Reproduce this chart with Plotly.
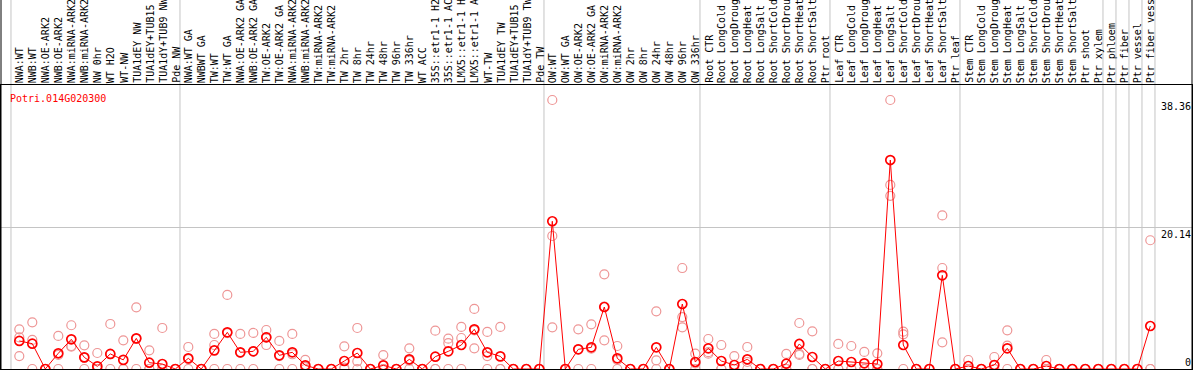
import plotly.graph_objects as go

gene = "Potri.014G020300"

categories = [
    "NWA:WT", "NWB:WT", "NWA:OE-ARK2", "NWB:OE-ARK2", "NWA:miRNA-ARK2", "NWB:miRNA-ARK2",
    "NW 0hr", "WT H2O", "WT-NW", "TUA1dEY NW", "TUA1dEY+TUB15 NW", "TUA1dY+TUB9 NW", "Pde NW",
    "NWA:WT GA", "NWBWT GA", "TW:WT", "TW:WT GA", "NWA:OE-ARK2 GA", "NWB:OE-ARK2 GA",
    "TW:OE-ARK2", "TW:OE-ARK2 GA", "NWA:miRNA-ARK2", "NWB:miRNA-ARK2", "TW:miRNA-ARK2",
    "TW:miRNA-ARK2", "TW 2hr", "TW 8hr", "TW 24hr", "TW 48hr", "TW 96hr", "TW 336hr",
    "WT ACC", "35S::etr1-1 H2O", "35S::etr1-1 ACC", "LMX5::etr1-1 H2O", "LMX5::etr1-1 ACC",
    "WT-TW", "TUA1dEY TW", "TUA1dEY+TUB15 TW", "TUA1dY+TUB9 TW", "Pde TW",
    "OW:WT", "OW:WT GA", "OW:OE-ARK2", "OW:OE-ARK2 GA", "OW:miRNA-ARK2", "OW:miRNA-ARK2",
    "OW 2hr", "OW 8hr", "OW 24hr", "OW 48hr", "OW 96hr", "OW 336hr",
    "Root CTR", "Root LongCold", "Root LongDrought", "Root LongHeat", "Root LongSalt",
    "Root ShortCold", "Root ShortDrought", "Root ShortHeat", "Root ShortSalt", "Ptr root",
    "Leaf CTR", "Leaf LongCold", "Leaf LongDrought", "Leaf LongHeat", "Leaf LongSalt",
    "Leaf ShortCold", "Leaf ShortDrought", "Leaf ShortHeat", "Leaf ShortSalt", "Ptr leaf",
    "Stem CTR", "Stem LongCold", "Stem LongDrought", "Stem LongHeat", "Stem LongSalt",
    "Stem ShortCold", "Stem ShortDrought", "Stem ShortHeat", "Stem ShortSalt", "Ptr shoot",
    "Ptr xylem", "Ptr phloem", "Ptr fiber", "Ptr vessel", "Ptr fiber vessel",
]

group_sizes = [13, 28, 12, 10, 10, 11, 1, 1, 1, 1]

mean_values = [
    4.0, 3.61, 0, 2.24, 4.23, 1.66, 0.38, 2.15, 1.3, 4.37, 0.9, 0.71, 0,
    1.52, 0, 2.66, 5.23, 2.38, 2.52, 4.52, 1.95, 2.38, 0.52, 0, 0, 1.14, 2.28, 0, 0.52, 0,
    1.38, 0, 1.76, 2.52, 3.42, 5.66, 2.38, 1.8, 0, 0, 0,
    21.07, 0, 2.81, 3.09, 8.84, 1.52, 0, 0, 3.09, 0, 9.27, 1.0,
    2.95, 1.14, 0.57, 1.38, 0, 0, 0.76, 3.57, 1.71, 0,
    1.14, 1.0, 0.81, 0.71, 29.8, 3.42, 0, 0, 13.36, 0,
    0.43, 0, 0.57, 2.95, 0, 0, 0.43, 0, 0, 0, 0,
    0, 0, 0, 6.13,
]

rep_a = [
    5.66, 6.66, 0, 4.71, 6.24, 3.38, 2.28, 6.42, 4.09, 8.8, 2.66, 5.85, 0,
    3.14, 0, 5.0, 10.56, 5.0, 5.14, 5.56, 4.0, 5.0, 1.3, 0, 0, 3.23, 5.85, 0, 1.99, 0,
    2.95, 0, 5.47, 4.33, 6.0, 8.56, 5.28, 6.0, 0, 0, 0,
    38.36, 0, 5.66, 6.37, 13.5, 3.28, 0, 0, 8.23, 0, 14.4, 2.19,
    4.28, 3.42, 1.85, 3.14, 0, 0, 2.15, 6.56, 5.37, 0,
    3.57, 3.28, 2.43, 2.24, 38.36, 5.32, 0, 0, 21.9, 0,
    1.28, 0, 1.71, 5.52, 0, 0, 1.28, 0, 0, 0, 0,
    0, 0, 0, 18.36,
]
rep_b = [
    1.85, 4.14, 0, 0, 3.28, 0, 0, 0, 0, 0, 0, 0, 0,
    0, 0, 3.42, 0, 0, 0, 3.42, 1.85, 0, 0, 0, 0, 0, 1.1, 0, 0, 0,
    1.2, 0, 0, 3.7, 4.42, 2.95, 1.85, 0, 0, 0, 0,
    18.97, 0, 0, 0, 4.09, 0, 0, 0, 1.24, 0, 7.4, 0,
    2.19, 0, 0, 0, 0, 0, 0, 2.15, 0, 0,
    0, 0, 0, 0, 26.25, 4.95, 0, 0, 14.4, 0,
    0, 0, 0, 3.33, 0, 0, 0, 0, 0, 0, 0,
    0, 0, 0, 0,
]
rep_c = [
    4.5, 0, 0, 2.0, 3.2, 1.6, 0, 2.1, 0, 4.3, 0, 0, 0,
    1.4, 0, 0, 5.1, 2.3, 2.5, 4.5, 0, 2.1, 0.3, 0, 0, 0.2, 0, 0, 0, 0,
    0, 0, 0, 0, 0, 5.5, 0, 0, 0, 0, 0,
    5.95, 0, 2.8, 2.9, 8.9, 1.3, 0, 0, 0, 0, 5.95, 0.8,
    2.4, 0, 0, 1.0, 0, 0, 0, 2.0, 0, 0,
    0, 0, 0, 0, 24.7, 0, 0, 0, 3.8, 0,
    0, 0, 0, 0, 0, 0, 0, 0, 0, 0, 0,
    0, 0, 0, 0,
]

y_ticks = [0, 20.14, 38.36]
y_tick_labels = ["0", "20.14", "38.36"]

RED = "#ff0000"
PINK = "rgb(238,150,150)"
GRID = "#c4c4c4"
FONT = "DejaVu Sans Mono"

W, H = 1194, 370
ML, MR, MT, MB = 1, 2, 85, 1
plot_h = H - MT - MB

idx = list(range(len(categories)))

fig = go.Figure()
for reps in (rep_a, rep_b, rep_c):
    fig.add_trace(go.Scatter(
        x=idx, y=reps, mode="markers",
        marker=dict(symbol="circle-open", size=9, color=PINK, line=dict(width=1.2, color=PINK)),
        hoverinfo="skip", showlegend=False,
    ))
fig.add_trace(go.Scatter(
    x=idx, y=mean_values, mode="lines+markers",
    line=dict(color=RED, width=1),
    marker=dict(symbol="circle-open", size=9, color=RED, line=dict(width=1.7, color=RED)),
    showlegend=False,
))

shapes = []
bounds = [0]
for g in group_sizes:
    bounds.append(bounds[-1] + g)
top_paper = (plot_h + MT + 2) / plot_h
for b in bounds:
    shapes.append(dict(type="line", xref="x", yref="paper", x0=b - 0.64, x1=b - 0.64,
                       y0=0, y1=top_paper, line=dict(color=GRID, width=1), layer="below"))
shapes.append(dict(type="line", xref="paper", yref="paper", x0=0, x1=0, y0=0, y1=top_paper,
                   line=dict(color="black", width=1)))
shapes.append(dict(type="line", xref="paper", yref="paper", x0=1, x1=1, y0=0, y1=top_paper,
                   line=dict(color="black", width=1)))

annotations = [dict(text=gene, xref="paper", yref="paper", x=0.006, y=1 - 6 / plot_h,
                    xanchor="left", yanchor="top", showarrow=False,
                    font=dict(family=FONT, size=10, color=RED))]
for i, c in zip(idx, categories):
    annotations.append(dict(text=c, xref="x", yref="paper", x=i, y=1 + 1 / plot_h,
                            xanchor="center", yanchor="bottom", textangle=-90,
                            showarrow=False, borderpad=0, xshift=1,
                            font=dict(family=FONT, size=10, color="black")))
for v, t in zip(y_ticks, y_tick_labels):
    annotations.append(dict(text=t, xref="paper", yref="y", x=1, y=v, xanchor="right",
                            yanchor="bottom" if v == 0 else "top", showarrow=False,
                            borderpad=0, xshift=0,
                            font=dict(family=FONT, size=10, color="black")))

fig.update_layout(
    width=W, height=H,
    margin=dict(l=ML, r=MR, t=MT, b=MB, pad=0),
    paper_bgcolor="white", plot_bgcolor="white",
    shapes=shapes, annotations=annotations,
    xaxis=dict(
        side="top", range=[-1.408, -1.408 + (W - ML - MR) / 13.0],
        showticklabels=False, ticks="", showgrid=False, zeroline=False,
        showline=True, linecolor="black", linewidth=1, mirror=True,
    ),
    yaxis=dict(
        range=[0, 40.5], tickmode="array", tickvals=[20.14], showticklabels=False,
        showgrid=True, gridcolor=GRID, gridwidth=1, zeroline=False, ticks="",
        showline=True, linecolor="black", linewidth=1, mirror=True,
    ),
)

fig.write_html("out.html", config={"displayModeBar": False},
               post_script="document.body.style.margin='0';document.body.style.padding='0';")
